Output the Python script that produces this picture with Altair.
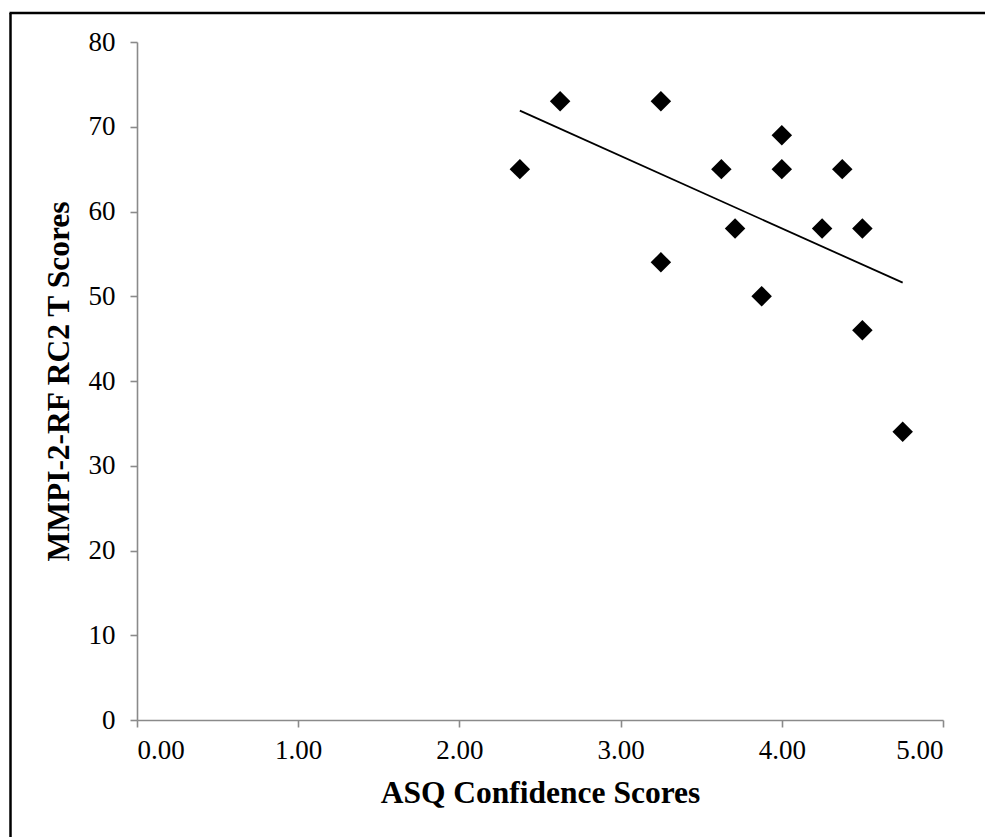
import altair as alt
import pandas as pd

# Data
asq = [2.375, 2.625, 3.25, 3.25, 3.625, 3.71, 3.875, 4.0, 4.0, 4.25, 4.375, 4.5, 4.5, 4.75]
rc2 = [65, 73, 73, 54, 65, 58, 50, 69, 65, 58, 65, 58, 46, 34]
trend_x = [2.375, 4.75]
trend_y = [71.9, 51.6]
x_ticks = [0, 1, 2, 3, 4, 5]
y_ticks = [0, 10, 20, 30, 40, 50, 60, 70, 80]

pts = pd.DataFrame({"x": asq, "y": rc2})
trend = pd.DataFrame({"x": trend_x, "y": trend_y})

FONT = "Liberation Serif"
W, H = 806, 678

xscale = alt.Scale(domain=[0, 5], nice=False, zero=False)
yscale = alt.Scale(domain=[0, 80], nice=False, zero=False)

points = alt.Chart(pts).mark_point(
    shape="diamond", filled=True, color="black", size=420, opacity=1
).encode(
    x=alt.X("x:Q", scale=xscale,
            axis=alt.Axis(title="ASQ Confidence Scores", values=x_ticks, format=".2f",
                          labelPadding=10, titlePadding=14)),
    y=alt.Y("y:Q", scale=yscale,
            axis=alt.Axis(title="MMPI-2-RF RC2 T Scores", values=y_ticks,
                          labelPadding=15, titlePadding=13)),
)

line = alt.Chart(trend).mark_line(color="black", strokeWidth=1.8).encode(
    x=alt.X("x:Q", scale=xscale),
    y=alt.Y("y:Q", scale=yscale),
)

one = alt.Data(values=[{"a": 1}])
frame_left = alt.Chart(one).mark_rule(color="black", strokeWidth=2.5).encode(
    x=alt.value(-126.5), y=alt.value(-29), y2=alt.value(820)
)
frame_top = alt.Chart(one).mark_rule(color="black", strokeWidth=2.5).encode(
    x=alt.value(-127.5), x2=alt.value(870), y=alt.value(-29)
)

chart = alt.layer(points, line, frame_left, frame_top).properties(
    width=W, height=H,
    autosize=alt.AutoSizeParams(type="none"),
    padding={"left": 137, "top": 42, "right": 42, "bottom": 117},
    background="white",
).configure_view(stroke=None).configure_axis(
    grid=False,
    domainColor="#8a8a8a",
    domainWidth=1.6,
    tickColor="#8a8a8a",
    tickWidth=1.6,
    tickSize=7,
    labelFont=FONT,
    labelFontSize=27,
    labelColor="black",
    titleFont=FONT,
    titleFontSize=31.5,
    titleFontWeight="bold",
    titleColor="black",
)

chart.save("out.html", embed_options={"renderer": "svg", "actions": False})
